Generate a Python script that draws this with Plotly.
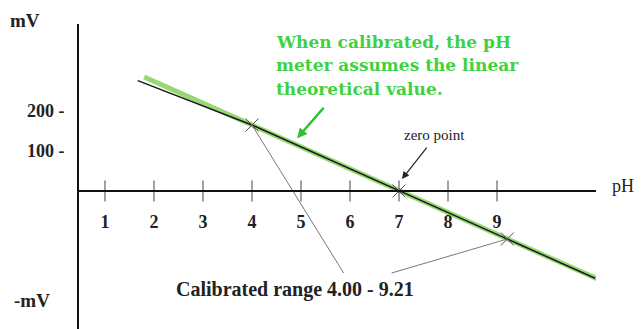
import plotly.graph_objects as go

# ---- data ----
ph_ticks = [1, 2, 3, 4, 5, 6, 7, 8, 9]
mv_ticks = [100, 200]
mv_tick_text = ["100 -", "200 -"]

theory_ph = [1.8, 11.05]          # green: theoretical line
theory_mv = [285, -220]
measured_ph = [1.67, 4.0, 11.0]    # black: electrode response
measured_mv = [276, 165, -218]
cal_ph = [4.00, 7.00, 9.21]        # calibration points (x marks)
cal_mv = [165, 0, -120]
callout_ph = [5.87, 6.85]          # where the callout lines meet the label
callout_mv = [-205, -205]

SERIF = "Liberation Serif, Times New Roman, serif"
WIDE_SERIF = "DejaVu Serif, serif"
GREEN_TXT = "#3fd13f"

fig = go.Figure()
fig.add_trace(go.Scatter(x=theory_ph, y=theory_mv, mode="lines",
                         line=dict(color="#96d873", width=5)))
fig.add_trace(go.Scatter(x=measured_ph, y=measured_mv, mode="lines",
                         line=dict(color="#1a1a1a", width=1.5)))
# callout lines from the label to calibration points 4.00 and 9.21
fig.add_trace(go.Scatter(x=[cal_ph[0], callout_ph[0]], y=[cal_mv[0], callout_mv[0]], mode="lines",
                         line=dict(color="#777", width=1)))
fig.add_trace(go.Scatter(x=[callout_ph[1], cal_ph[2]], y=[callout_mv[1], cal_mv[2]], mode="lines",
                         line=dict(color="#777", width=1)))
fig.add_trace(go.Scatter(x=cal_ph, y=cal_mv, mode="markers",
                         marker=dict(symbol="x-thin", size=13, line=dict(color="#555", width=1))))
# tick marks crossing the pH axis
fig.add_trace(go.Scatter(x=ph_ticks, y=[0]*len(ph_ticks), mode="markers",
                         marker=dict(symbol="line-ns", size=15, line=dict(color="#444", width=1))))

ann = [
    dict(x=4.44, y=372, text="When calibrated, the pH"),
    dict(x=4.44, y=314, text="meter assumes the linear"),
    dict(x=4.44, y=256, text="theoretical value."),
]
for a in ann:
    fig.add_annotation(**a, xanchor="left", yanchor="middle", showarrow=False,
                       font=dict(family=WIDE_SERIF, size=17, color=GREEN_TXT, weight="bold"))

fig.add_annotation(x=4.92, y=132, ax=5.49, ay=212, axref="x", ayref="y", text="",
                   showarrow=True, arrowhead=2, arrowwidth=2.5, arrowsize=0.8, arrowcolor="#2fbf2f")
fig.add_annotation(x=7.06, y=30, ax=7.59, ay=112, axref="x", ayref="y", text="",
                   showarrow=True, arrowhead=2, arrowwidth=1.2, arrowsize=1.2, arrowcolor="#222")
fig.add_annotation(x=7.73, y=140, text="zero point", showarrow=False,
                   font=dict(family=SERIF, size=15, color="#222"))
fig.add_annotation(x=4.88, y=-245, text="Calibrated range 4.00 - 9.21", showarrow=False,
                   font=dict(family=SERIF, size=20, color="#222", weight="bold"))
# axis captions sit outside the plotting area -> paper coords
fig.add_annotation(xref="paper", yref="paper", x=-0.104, y=1.013, text="mV", showarrow=False,
                   xanchor="center", yanchor="middle",
                   font=dict(family=SERIF, size=19, color="#222", weight="bold"))
fig.add_annotation(xref="paper", yref="paper", x=-0.091, y=0.095, text="-mV", showarrow=False,
                   xanchor="center", yanchor="middle",
                   font=dict(family=SERIF, size=19, color="#222", weight="bold"))
fig.add_annotation(xref="paper", yref="paper", x=1.052, y=0.47, text="pH", showarrow=False,
                   xanchor="center", yanchor="middle",
                   font=dict(family=SERIF, size=18, color="#222"))

# the page body adds 8px on top/left, so margins are 8px smaller than the pixel positions
fig.update_layout(
    width=643, height=329, showlegend=False,
    paper_bgcolor="white", plot_bgcolor="white",
    margin=dict(l=71, r=55, t=16, b=8, autoexpand=False),
    xaxis=dict(range=[0.47, 11.02], showgrid=False, zeroline=False, automargin=False,
               anchor="free", position=(329-191)/305,
               showline=True, linecolor="#111", linewidth=2,
               tickvals=ph_ticks, ticks="", ticklabelstandoff=14,
               tickfont=dict(family=SERIF, size=18, color="#222", weight="bold")),
    yaxis=dict(range=[-345, 417.5], showgrid=False, zeroline=False, automargin=False,
               showline=True, linecolor="#111", linewidth=2,
               tickvals=mv_ticks, ticktext=mv_tick_text, ticks="", ticklabelstandoff=9,
               tickfont=dict(family=SERIF, size=18, color="#222", weight="bold")),
)

fig.write_html("out.html")
